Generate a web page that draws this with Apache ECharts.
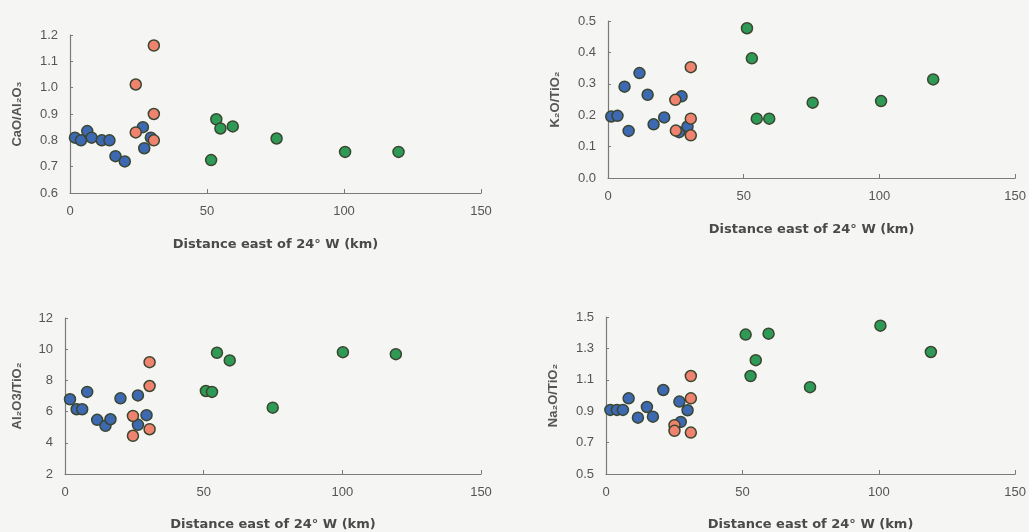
<!DOCTYPE html>
<html><head><meta charset="utf-8">
<script src="https://cdn.jsdelivr.net/npm/echarts@6/dist/echarts.min.js"></script>
<style>html,body{margin:0;padding:0;background:#f5f5f3;}#c{width:1029px;height:532px;}</style>
</head><body><div id="c"></div>
<script>
// x = distance east of 24° W (km), y = ratio
// Panel A: CaO/Al2O3
const caoBlue = [[1.8,0.81],[4.0,0.80],[6.3,0.835],[7.9,0.81],[11.6,0.80],[14.4,0.80],[16.6,0.74],[20.0,0.72],[26.6,0.85],[27.1,0.77],[29.5,0.81]];
const caoOrange = [[24.0,1.012],[24.0,0.83],[30.6,1.16],[30.6,0.90],[30.6,0.80]];
const caoGreen = [[51.5,0.725],[53.4,0.88],[54.9,0.845],[59.4,0.853],[75.4,0.807],[100.4,0.756],[119.9,0.756]];
// Panel B: K2O/TiO2
const kBlue = [[1.2,0.196],[3.5,0.198],[6.1,0.291],[7.6,0.150],[11.6,0.334],[14.6,0.265],[16.8,0.171],[20.7,0.193],[27.1,0.26],[26.2,0.146],[29.3,0.164]];
const kOrange = [[24.8,0.249],[25.0,0.151],[30.5,0.353],[30.5,0.189],[30.5,0.136]];
const kGreen = [[51.2,0.477],[53.0,0.381],[54.8,0.189],[59.4,0.189],[75.4,0.240],[100.6,0.245],[119.8,0.314]];
// Panel C: Al2O3/TiO2
const alBlue = [[1.8,6.79],[4.2,6.15],[6.2,6.15],[8.0,7.26],[11.6,5.47],[14.6,5.09],[16.4,5.51],[20.0,6.85],[26.3,7.04],[26.3,5.15],[29.4,5.77]];
const alOrange = [[24.5,5.72],[24.5,4.45],[30.5,9.17],[30.5,7.64],[30.5,4.87]];
const alGreen = [[50.8,7.32],[53.0,7.26],[54.8,9.77],[59.4,9.28],[74.9,6.25],[100.2,9.81],[119.3,9.68]];
// Panel D: Na2O/TiO2
const naBlue = [[1.6,0.908],[4.0,0.908],[6.2,0.908],[8.3,0.982],[11.7,0.859],[15.0,0.927],[17.2,0.865],[21.0,1.035],[26.9,0.961],[27.4,0.832],[29.9,0.906]];
const naOrange = [[25.1,0.811],[25.1,0.775],[31.1,1.124],[31.1,0.982],[31.1,0.764]];
const naGreen = [[51.2,1.388],[53.0,1.124],[54.9,1.225],[59.6,1.394],[74.8,1.053],[100.6,1.445],[119.1,1.277]];

const xTitle = 'Distance east of 24° W (km)';
const yTitles = ['CaO/Al₂O₃', 'K₂O/TiO₂', 'Al₂O3/TiO₂', 'Na₂O/TiO₂'];
const yRanges = [[0.6,1.2,0.1,1],[0,0.5,0.1,1],[2,12,2,0],[0.5,1.5,0.2,1]];
const xTicks = [0, 150, 50];

const grids = [
  {left:70, top:35, width:411, height:158},
  {left:608, top:21, width:409, height:157},
  {left:65, top:318, width:416, height:157},
  {left:606, top:317, width:411, height:158}
];
const yNameGap = [46, 46, 41, 46];

const axisLine = {lineStyle:{color:'#7a7a7a', width:1.2}};
const labelStyle = {color:'#555', fontSize:13, fontFamily:'Liberation Sans, Arial, sans-serif'};

const colors = {blue:'#3d68b2', orange:'#ef836f', green:'#2f9a55'};
const sets = [
  [caoBlue, caoOrange, caoGreen],
  [kBlue, kOrange, kGreen],
  [alBlue, alOrange, alGreen],
  [naBlue, naOrange, naGreen]
];

const xAxis = [], yAxis = [], series = [];
grids.forEach((g, i) => {
  xAxis.push({
    type:'value', gridIndex:i, min:xTicks[0], max:xTicks[1], interval:xTicks[2],
    name:xTitle, nameLocation:'middle', nameGap:i<2?45:44,
    nameTextStyle:{color:'#4a4a4a', fontSize:13, fontWeight:'bold', fontFamily:'DejaVu Sans, sans-serif'},
    axisLine:axisLine, axisTick:{show:true, inside:true, length:4, lineStyle:{color:'#7a7a7a'}},
    axisLabel:Object.assign({margin:12}, labelStyle), splitLine:{show:false}
  });
  const r = yRanges[i];
  yAxis.push({
    type:'value', gridIndex:i, min:r[0], max:r[1], interval:r[2],
    name:yTitles[i], nameLocation:'middle', nameGap:yNameGap[i], nameRotate:90,
    nameTextStyle:{color:'#555', fontSize:13, fontWeight:'bold', fontFamily:'Liberation Sans, Arial, sans-serif'},
    axisLine:Object.assign({show:true}, axisLine), axisTick:{show:true, inside:true, length:3, lineStyle:{color:'#7a7a7a'}},
    axisLabel:Object.assign({margin:12, formatter: v => v.toFixed(r[3])}, labelStyle), splitLine:{show:false}
  });
  ['blue','orange','green'].forEach((c, k) => {
    series.push({
      type:'scatter', xAxisIndex:i, yAxisIndex:i, data:sets[i][k], symbolSize:11,
      itemStyle:{color:colors[c], borderColor:'#3a4630', borderWidth:1.5, opacity:1},
      silent:true, animation:false
    });
  });
});

const chart = echarts.init(document.getElementById('c'));
chart.setOption({backgroundColor:'#f5f5f3', animation:false, grid:grids, xAxis, yAxis, series});
</script></body></html>
